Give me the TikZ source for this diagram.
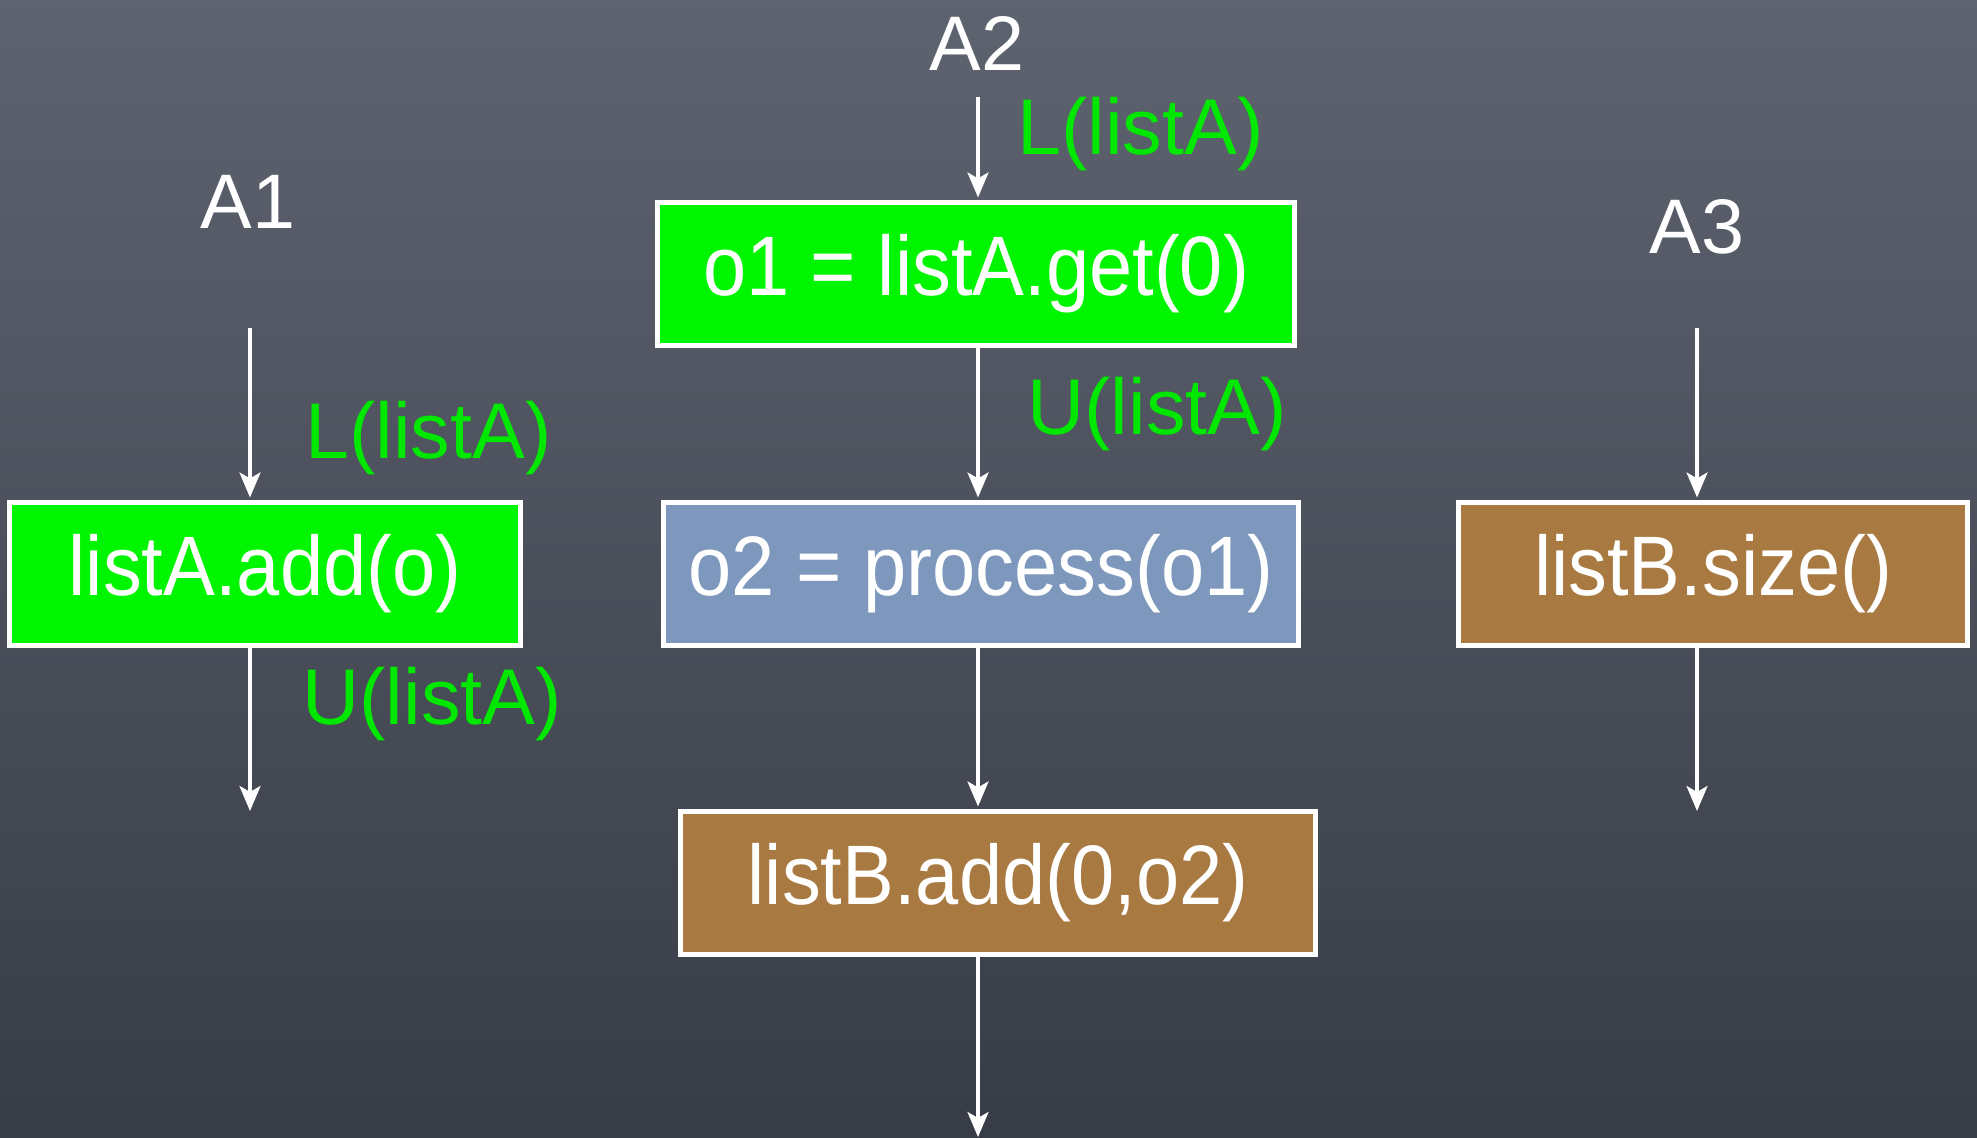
\documentclass[tikz,border=0pt]{standalone}
\usepackage{fontspec}
\setmainfont{Liberation Sans}
\usetikzlibrary{arrows.meta}
\definecolor{bgtop}{RGB}{94,99,112}
\definecolor{bgbot}{RGB}{56,60,70}
\definecolor{boxgreen}{RGB}{0,245,0}
\definecolor{lblgreen}{RGB}{0,232,0}
\definecolor{boxblue}{RGB}{126,151,188}
\definecolor{boxbrown}{RGB}{168,122,66}
\begin{document}
\begin{tikzpicture}[x=0.01cm,y=-0.01cm,
  opbox/.style={draw=white, line width=1.5pt, text=white, minimum height=1.43cm,
    inner sep=0pt, outer sep=0pt,
    font=\fontsize{24}{29}\selectfont\addfontfeature{FakeStretch=0.92}},
  thread/.style={text=white, font=\fontsize{22}{27}\selectfont},
  lock/.style={text=lblgreen, font=\fontsize{22.5}{27}\selectfont, anchor=west},
  flow/.style={draw=white, line width=0.9pt,
    -{Stealth[length=0.25cm,width=0.21cm,inset=0.06cm]}},
  into/.style={shorten >=0.05cm}]
\shade[top color=bgtop, bottom color=bgbot] (0,0) rectangle (1977,1137);
\useasboundingbox (0,0) rectangle (1977,1137);

% thread labels
\node[thread] (a1) at (248,202) {A1};
\node[thread] (a2) at (977,44) {A2};
\node[thread] (a3) at (1697,227) {A3};

% operation boxes
\node[opbox, fill=boxgreen, minimum width=5.10cm] (add) at (265,574) {listA.add(o)};
\node[opbox, fill=boxgreen, minimum width=6.36cm] (get) at (976,274) {o1 = listA.get(0)};
\node[opbox, fill=boxblue, minimum width=6.35cm] (proc) at (981,574) {o2 = process(o1)};
\node[opbox, fill=boxbrown, minimum width=6.34cm] (addb) at (998,883) {listB.add(0,o2)};
\node[opbox, fill=boxbrown, minimum width=5.09cm] (size) at (1713,574) {listB.size()};

% connector end points
\coordinate (a1s) at (250,328);
\coordinate (a1e) at (250,811);
\coordinate (a2s) at (978,97);
\coordinate (a2e) at (978,1137);
\coordinate (a3s) at (1697,328);
\coordinate (a3e) at (1697,811);

% A1
\draw[flow,into] (a1s) -- (add.north -| a1s);
\draw[flow] (add.south -| a1e) -- (a1e);
% A2
\draw[flow,into] (a2s) -- (get.north -| a2s);
\draw[flow,into] (get.south -| a2s) -- (proc.north -| a2s);
\draw[flow,into] (proc.south -| a2s) -- (addb.north -| a2s);
\draw[flow] (addb.south -| a2e) -- (a2e);
% A3
\draw[flow,into] (a3s) -- (size.north -| a3s);
\draw[flow] (size.south -| a3e) -- (a3e);

% lock / unlock labels
\node[lock] (l1) at (293,438) {L(listA)};
\node[lock] (u1) at (290,704) {U(listA)};
\node[lock] (l2) at (1005,134) {L(listA)};
\node[lock] (u2) at (1015,414) {U(listA)};
\end{tikzpicture}
\end{document}
